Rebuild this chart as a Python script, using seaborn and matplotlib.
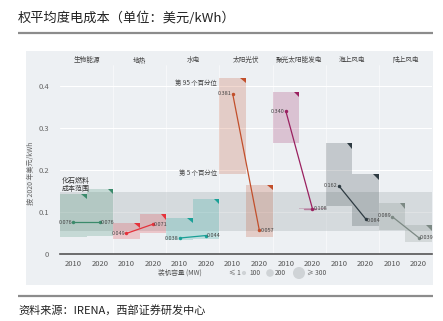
import numpy as np
import pandas as pd
import matplotlib
matplotlib.use("Agg")
import matplotlib.pyplot as plt
from matplotlib.patches import Rectangle, Polygon
import seaborn as sns

# ---- data ----
techs = ['生物能源', '地热', '水电', '太阳光伏', '聚光太阳能发电', '海上风电', '陆上风电']
years = ['2010', '2020']
avg_2010 = [0.076, 0.049, 0.038, 0.381, 0.340, 0.162, 0.089]
avg_2020 = [0.076, 0.071, 0.044, 0.057, 0.108, 0.084, 0.039]
p95_2010 = [0.143, 0.074, 0.086, 0.420, 0.386, 0.264, 0.121]
p5_2010 = [0.040, 0.036, 0.033, 0.190, 0.265, 0.114, 0.057]
p95_2020 = [0.155, 0.095, 0.131, 0.165, 0.109, 0.190, 0.069]
p5_2020 = [0.043, 0.050, 0.036, 0.040, 0.107, 0.067, 0.029]
fossil_range = [0.055, 0.148]
y_ticks = [0, 0.1, 0.2, 0.3, 0.4]
legend_labels = ['≤ 1', '100', '200', '≥ 300']

line_colors = ['#3b8a6b', '#e5323b', '#19a097', '#c24f2b', '#9a2160', '#2e3b42', '#7c8984']

sns.set_theme(style="white")
plt.rcParams['font.family'] = ['Noto Sans CJK SC', 'DejaVu Sans']

W, H = 443, 321
fig = plt.figure(figsize=(W / 100, H / 100), dpi=100)
fig.patch.set_facecolor('white')

# decoration layer in pixel coordinates
deco = fig.add_axes([0, 0, 1, 1], zorder=0)
deco.set_xlim(0, W)
deco.set_ylim(H, 0)
deco.axis('off')
deco.add_patch(Rectangle((26, 51), 407, 234, facecolor='#edf0f3', edgecolor='none'))
deco.plot([18, 433], [33, 33], color='#8c8c8c', lw=1.6, solid_capstyle='butt')
deco.plot([18, 433], [296, 296], color='#8c8c8c', lw=1.6, solid_capstyle='butt')
deco.text(18, 18, '权平均度电成本（单位：美元/kWh）', fontsize=9.5, color='#222222',
          va='center', ha='left')
deco.text(18, 310, '资料来源：IRENA，西部证券研发中心', fontsize=8, color='#222222',
          va='center', ha='left')

# legend (installed capacity)
deco.text(180, 273, '装机容量 (MW)', fontsize=4.8, color='#555555', ha='center', va='center')
leg_x = [235, 244, 270, 299]
leg_s = [0.5, 9, 30, 75]
for lx, ls, lab, tx in zip(leg_x, leg_s, legend_labels, [232, 249, 275, 307]):
    if lab != '≤ 1':
        deco.scatter([lx], [273], s=ls, color='#cfd3d6', edgecolor='none', zorder=3)
    deco.text(tx if lab != '≤ 1' else 229, 273, lab, fontsize=4.8, color='#555555',
              ha='left', va='center')

# main axes
ax = fig.add_axes([60 / W, (H - 254) / H, (432 - 60) / W, (254 - 51) / H], zorder=1)
ax.set_facecolor('none')
n = len(techs)
ax.set_xlim(-0.5, 2 * n - 0.5)
ax.set_ylim(0, (254 - 51) / 420)

for yt in y_ticks[1:]:
    ax.axhline(yt, color='white', lw=0.8, zorder=0)
for i in range(1, n):
    ax.axvline(2 * i - 0.5, color='white', lw=0.6, alpha=0.6, zorder=0, ymax=0.93)

# fossil fuel band
ax.axhspan(fossil_range[0], fossil_range[1], color='#b9c0c4', alpha=0.45, lw=0, zorder=1)
ax.text(0.0 - 0.45, fossil_range[1] + 0.036, '化石燃料\n成本范围', fontsize=5, color='#333333',
        ha='left', va='top', linespacing=1.1, zorder=6)

# percentile boxes
dx = 5.5 / 26.57
dy = 5.5 / 420
for i, t in enumerate(techs):
    c = line_colors[i]
    for j, (lo, hi) in enumerate([(p5_2010[i], p95_2010[i]), (p5_2020[i], p95_2020[i])]):
        xc = 2 * i + j
        ax.bar(xc, hi - lo, bottom=lo, width=1.0, color=c, alpha=0.22, lw=0, zorder=2)
        if hi - lo > 0.01:
            xr = xc + 0.5
            ax.add_patch(Polygon([(xr - dx, hi), (xr, hi), (xr, hi - dy)], closed=True,
                                 facecolor=c, edgecolor='none', zorder=4))
        else:
            ax.plot([xc - 0.3, xc + 0.15], [lo, lo], color=c, alpha=0.5, lw=1, zorder=3)

# weighted averages
rows = []
for i, t in enumerate(techs):
    rows.append(dict(tech=t, year='2010', x=2 * i, value=avg_2010[i]))
    rows.append(dict(tech=t, year='2020', x=2 * i + 1, value=avg_2020[i]))
df = pd.DataFrame(rows)
sns.lineplot(data=df, x='x', y='value', hue='tech', palette=dict(zip(techs, line_colors)),
             marker='o', markersize=2.5, markeredgewidth=0, lw=0.9, legend=False, ax=ax,
             zorder=5)

# label nudges where a 2020 label meets the next technology's 2010 label
nudge = {}
for i in range(n - 1):
    if abs(avg_2020[i] - avg_2010[i + 1]) < 0.01:
        lower = -0.005
        if avg_2020[i] <= avg_2010[i + 1]:
            nudge[(i, '2020')] = lower
            nudge[(i + 1, '2010')] = 0.003
        else:
            nudge[(i, '2020')] = 0.003
            nudge[(i + 1, '2010')] = lower
for k, r in df.iterrows():
    i = k // 2
    off = nudge.get((i, r['year']), 0.0)
    if r['year'] == '2010':
        ax.text(r['x'] - 0.04, r['value'] + off, f"{r['value']:.3f}", fontsize=4.0,
                color='#444444', ha='right', va='center', zorder=6)
    else:
        ax.text(r['x'] + 0.04, r['value'] + off, f"{r['value']:.3f}", fontsize=4.0,
                color='#444444', ha='left', va='center', zorder=6)

# percentile annotations on solar PV 2010
si = techs.index('太阳光伏')
ax.text(2 * si - 0.6, p95_2010[si] - 0.012, '第 95 个百分位', fontsize=4.6, color='#444444',
        ha='right', va='center', zorder=6)
ax.text(2 * si - 0.6, p5_2010[si] + 0.003, '第 5 个百分位', fontsize=4.6, color='#444444',
        ha='right', va='center', zorder=6)

# technology headers
for i, t in enumerate(techs):
    ax.text(2 * i + 0.5, 0.462, t, fontsize=4.8, color='#444444', ha='center', va='center')

# axes styling
ax.set_xticks(range(2 * n))
ax.set_xticklabels(years * n, fontsize=5.5, color='#555555')
ax.set_xticks(np.arange(0.5, 2 * n - 1, 1), minor=True)
ax.tick_params(axis='x', which='major', length=0, pad=4)
ax.tick_params(axis='x', which='minor', length=2, width=1, color='#444444', direction='out')
ax.set_yticks(y_ticks)
ax.set_yticklabels(['0', '0.1', '0.2', '0.3', '0.4'], fontsize=5.5, color='#666666')
ax.tick_params(axis='y', length=0, pad=8)
for s in ['top', 'right', 'left']:
    ax.spines[s].set_visible(False)
ax.spines['bottom'].set_color('#555555')
ax.spines['bottom'].set_linewidth(1.2)
ax.set_xlabel('')
ax.set_ylabel('按 2020 年美元/kWh', fontsize=5, color='#666666')
ax.yaxis.set_label_coords(-0.068, 0.40)

fig.savefig('out.png', dpi=100, facecolor='white')
